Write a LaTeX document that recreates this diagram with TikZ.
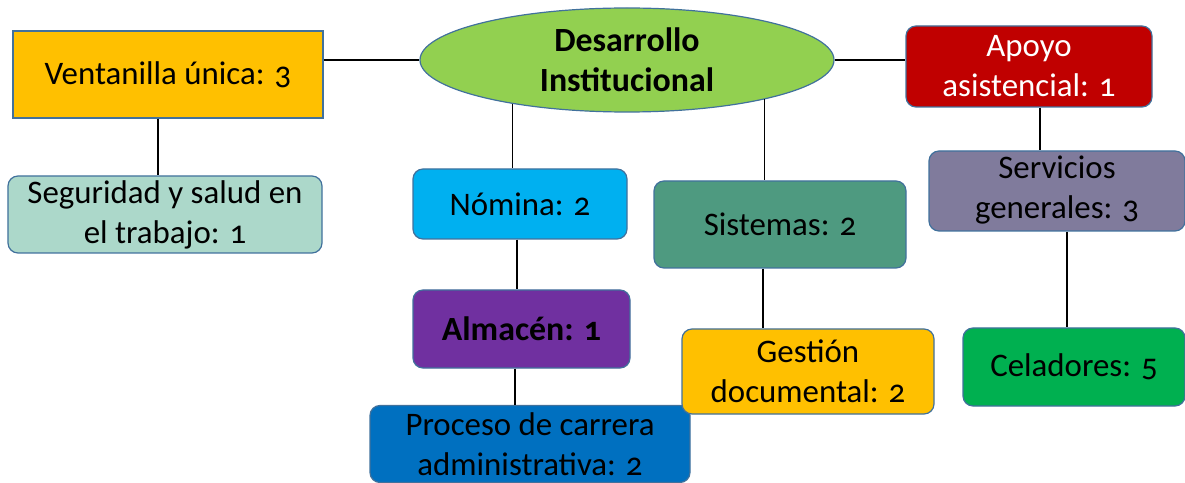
\documentclass[tikz,border=0pt]{standalone}
\usepackage{fontspec}
\setmainfont[Numbers=OldStyle]{Carlito}
\usetikzlibrary{shapes.geometric}
\definecolor{myborder}{RGB}{65, 113, 156}
\definecolor{myorange}{RGB}{255, 192, 0}
\definecolor{mymint}{RGB}{172, 216, 202}
\definecolor{mylime}{RGB}{146, 208, 80}
\definecolor{myred}{RGB}{192, 0, 0}
\definecolor{mylilac}{RGB}{128, 123, 156}
\definecolor{mycyan}{RGB}{0, 176, 240}
\definecolor{myteal}{RGB}{78, 154, 128}
\definecolor{mypurple}{RGB}{112, 48, 160}
\definecolor{myblue}{RGB}{0, 112, 192}
\definecolor{mygreen}{RGB}{0, 176, 80}
\tikzset{
  unit/.style={draw=myborder, line width=1.2bp, align=center, inner sep=0pt,
    font=\fontsize{33}{40}\selectfont},
  card/.style={unit, rounded corners=10bp},
  heavy/.style={font=\fontsize{34}{40}\selectfont\bfseries},
  link/.style={line width=1.3bp}
}
\begin{document}
\begin{tikzpicture}[x=1bp, y=-1bp]
  \useasboundingbox (0,0) rectangle (1185,483);
  % nodos
  \node[unit, fill=myorange, minimum width=310bp, minimum height=87bp] (ven) at (168,74.5) {Ventanilla única: 3};
  \node[card, fill=mymint, minimum width=314bp, minimum height=77bp] (seg) at (165,214.5) {Seguridad y salud en\\el trabajo: 1};
  \node[unit, ellipse, fill=mylime, minimum width=414bp, minimum height=104bp, heavy] (des) at (627,60) {Desarrollo\\Institucional};
  \node[card, fill=myred, text=white, minimum width=246bp, minimum height=81bp] (apo) at (1029,66.5) {Apoyo\\asistencial: 1};
  \node[card, fill=mylilac, minimum width=256bp, minimum height=80bp, text depth=8bp] (ser) at (1057,191) {Servicios\\generales: 3};
  \node[card, fill=mycyan, minimum width=214bp, minimum height=70bp] (nom) at (520,204) {Nómina: 2};
  \node[card, fill=myteal, minimum width=252bp, minimum height=87bp] (sis) at (780,224.5) {Sistemas: 2};
  \node[card, fill=mypurple, minimum width=217bp, minimum height=78bp, heavy] (alm) at (521.5,329) {Almacén: 1};
  \node[card, fill=myblue, minimum width=320bp, minimum height=77bp] (pro) at (530,444) {Proceso de carrera\\administrativa: 2};
  \node[card, fill=myorange, minimum width=252bp, minimum height=85bp] (ges) at (808,371.5) {Gestión\\documental: 2};
  \node[card, fill=mygreen, minimum width=222bp, minimum height=78bp] (cel) at (1074,367) {Celadores: 5};
  % conectores
  \draw[link] (des.west -| ven.east) -- (des.west);
  \draw[link] (des.east) -- (des.east -| apo.west);
  \draw[link] ([xshift=-10bp]ven.south) -- ([xshift=-10bp]ven.south |- seg.north);
  \draw[link] (des.201) -- (des.201 |- nom.north);
  \draw[link] (des.344) -- (des.344 |- sis.north);
  \draw[link] ([xshift=11bp]apo.south) -- ([xshift=11bp]apo.south |- ser.north);
  \draw[link] ([xshift=-3bp]nom.south) -- ([xshift=-3bp]nom.south |- alm.north);
  \draw[link] ([xshift=-6.5bp]alm.south) -- ([xshift=-6.5bp]alm.south |- pro.north);
  \draw[link] ([xshift=-17bp]sis.south) -- ([xshift=-17bp]sis.south |- ges.north);
  \draw[link] ([xshift=10bp]ser.south) -- ([xshift=10bp]ser.south |- cel.north);
\end{tikzpicture}
\end{document}
